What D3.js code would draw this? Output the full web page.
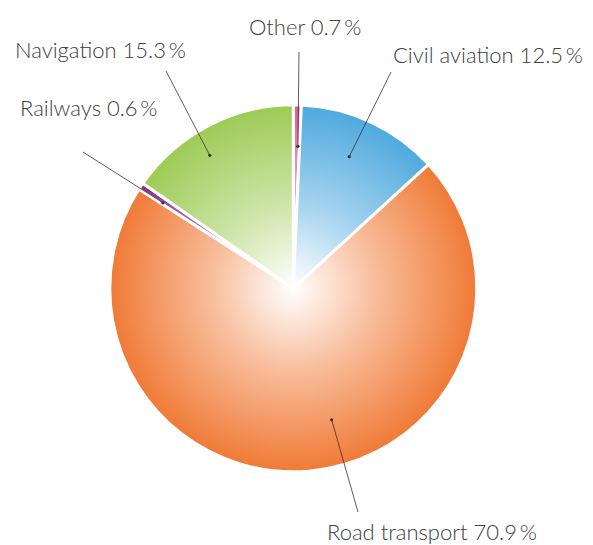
<!DOCTYPE html>
<html>
<head>
<meta charset="utf-8">
<script src="https://cdn.jsdelivr.net/npm/d3@7"></script>
<style>
  body { margin: 0; background: #fff; }
</style>
</head>
<body>
<div id="chart"></div>
<script>
// data, clockwise from 12 o'clock
const categories = ["Other", "Civil aviation", "Road transport", "Railways", "Navigation"];
const shares = [0.7, 12.5, 70.9, 0.6, 15.3];
const labels = ["Other 0.7\u2009%", "Civil aviation 12.5\u2009%", "Road transport 70.9\u2009%", "Railways 0.6\u2009%", "Navigation 15.3\u2009%"];
const colors = ["#e6589b", "#4ea9de", "#f07a36", "#8b2b8e", "#9dcb55"];

const width = 593;
const height = 545;
const cx = 293.3, cy = 288.3, radius = 183.5;

// label layout: text anchor (left, baseline), dot angle offset (deg) and dot radius
const labelPos = [
  {x: 249, y: 35,  lx: 299, ly: 52,  da: 0.6,   r: 142},
  {x: 393, y: 63,  lx: 391, ly: 72,  da: -2,    r: 143},
  {x: 327, y: 540, lx: 358, ly: 512, da: -11.4, r: 137},
  {x: 20,  y: 116, lx: 83,  ly: 152, da: -0.6,  r: 156},
  {x: 15,  y: 58,  lx: 166, ly: 71,  da: -4.6,  r: 157}
];

const svg = d3.select("#chart")
  .append("svg")
  .attr("width", width)
  .attr("height", height)
  .attr("viewBox", [0, 0, width, height]);

// radial gradients, white in the middle, full colour at the rim
const defs = svg.append("defs");
colors.forEach((c, i) => {
  const g = defs.append("radialGradient")
    .attr("id", "grad" + i)
    .attr("gradientUnits", "userSpaceOnUse")
    .attr("cx", 0).attr("cy", 0).attr("r", radius);
  g.append("stop").attr("offset", 0).attr("stop-color", "#fff");
  g.append("stop").attr("offset", 0.45).attr("stop-color", d3.interpolateRgb("#fff", c)(0.5));
  g.append("stop").attr("offset", 1).attr("stop-color", c);
});

const pie = d3.pie().sort(null).value(d => d);
const arcs = pie(shares);
const arc = d3.arc().innerRadius(0).outerRadius(radius);

const g = svg.append("g").attr("transform", `translate(${cx},${cy})`);

g.selectAll("path")
  .data(arcs)
  .join("path")
  .attr("d", arc)
  .attr("fill", (d, i) => `url(#grad${i})`)
  .attr("stroke", "#fff")
  .attr("stroke-width", 3)
  .attr("stroke-linejoin", "miter");

// leader lines
const dots = arcs.map((d, i) => {
  const a = (d.startAngle + d.endAngle) / 2 + labelPos[i].da * Math.PI / 180;
  return [cx + labelPos[i].r * Math.sin(a), cy - labelPos[i].r * Math.cos(a)];
});

svg.append("g")
  .selectAll("line")
  .data(arcs)
  .join("line")
  .attr("x1", (d, i) => labelPos[i].lx)
  .attr("y1", (d, i) => labelPos[i].ly)
  .attr("x2", (d, i) => dots[i][0])
  .attr("y2", (d, i) => dots[i][1])
  .attr("stroke", "#333")
  .attr("stroke-width", 0.8);

svg.append("g")
  .selectAll("circle")
  .data(arcs)
  .join("circle")
  .attr("cx", (d, i) => dots[i][0])
  .attr("cy", (d, i) => dots[i][1])
  .attr("r", 1.6)
  .attr("fill", "#333");

svg.append("g")
  .selectAll("text")
  .data(labels)
  .join("text")
  .attr("x", (d, i) => labelPos[i].x)
  .attr("y", (d, i) => labelPos[i].y)
  .attr("font-family", "Lato, 'Open Sans', sans-serif")
  .attr("font-weight", 300)
  .attr("font-size", "22px")
  .attr("fill", "#404040")
  .text(d => d);
</script>
</body>
</html>
